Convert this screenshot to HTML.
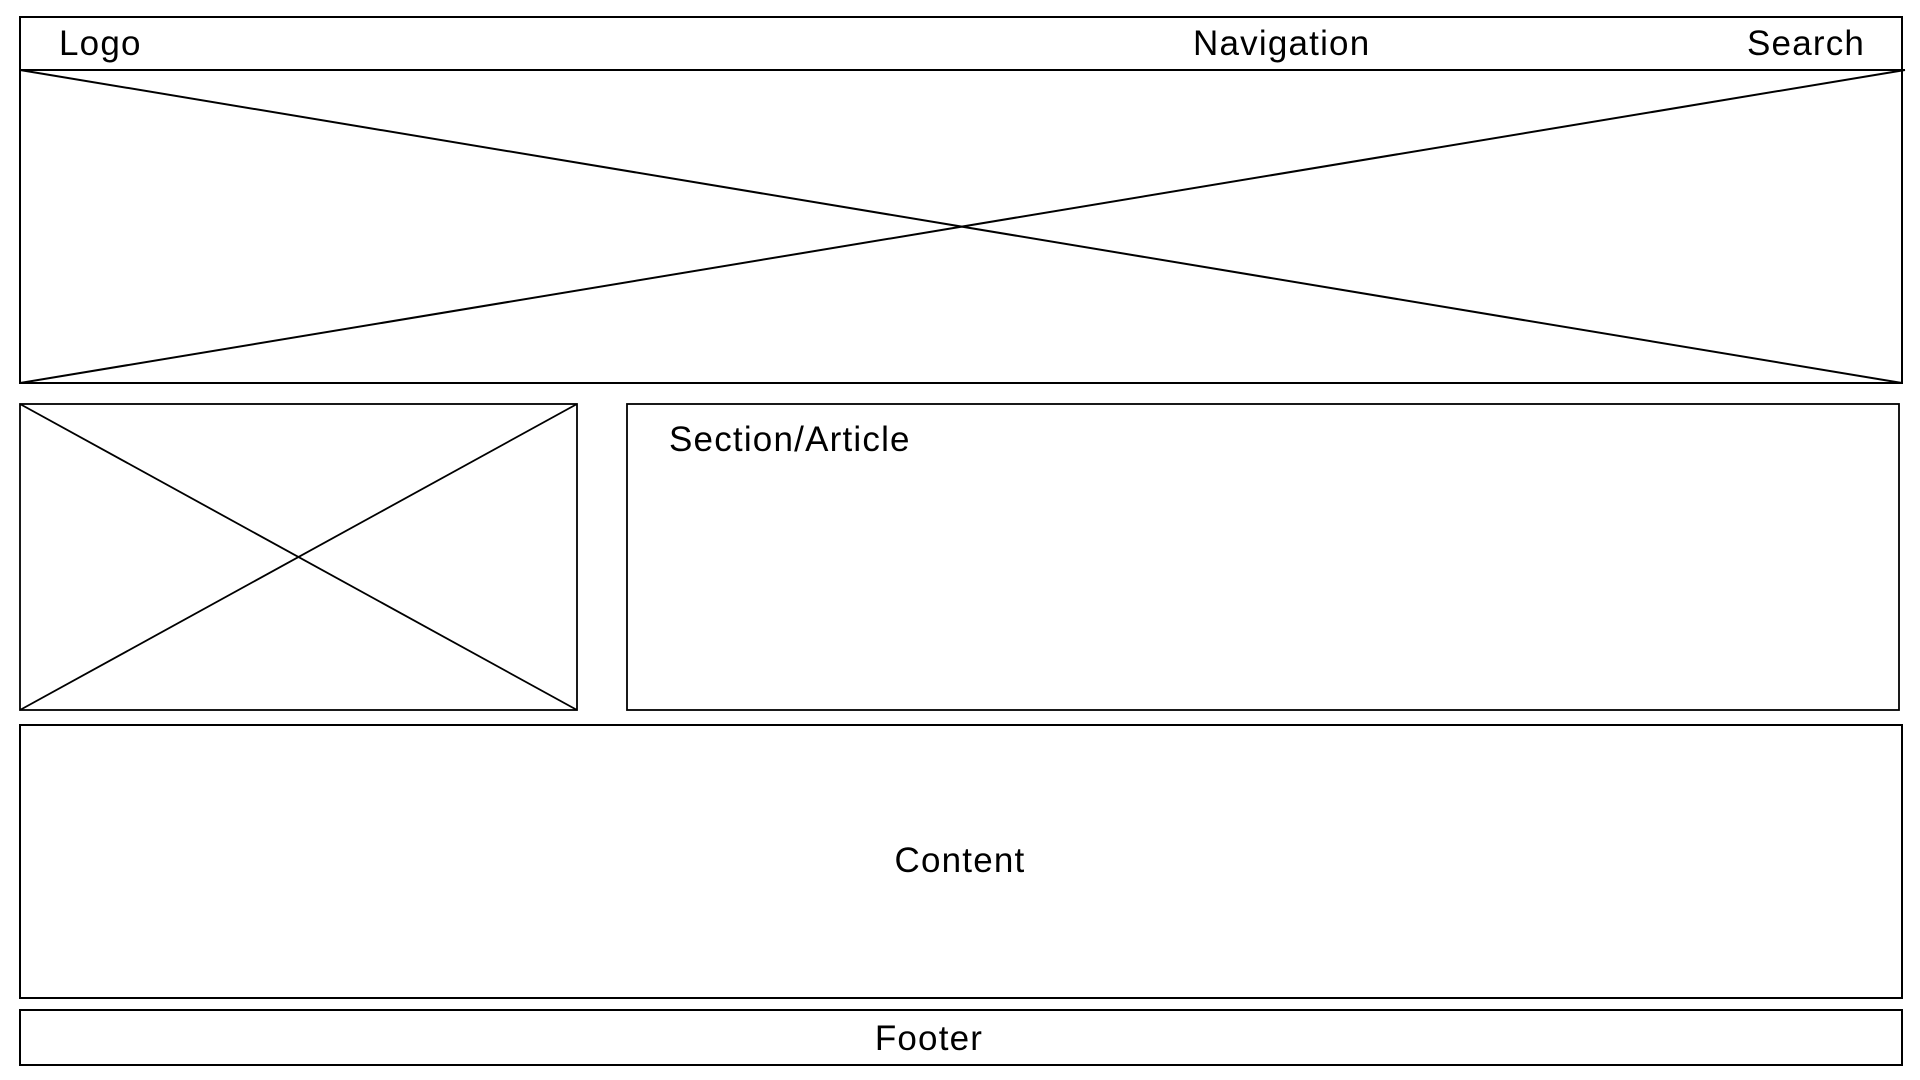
<!DOCTYPE html>
<html><head><meta charset="utf-8"><style>
html,body{margin:0;padding:0;background:#fff;width:1920px;height:1080px;overflow:hidden}
svg{display:block}
text{font-family:"Liberation Sans",sans-serif;font-size:35px;letter-spacing:1.2px;fill:#000}
</style></head><body>
<svg width="1920" height="1080" viewBox="0 0 1920 1080">
<g fill="none" stroke="#000" stroke-width="2">
<rect x="20" y="17" width="1882" height="366"/>
<line x1="20" y1="70" x2="1905" y2="70"/>
<line x1="20" y1="70" x2="1902" y2="383"/>
<line x1="20" y1="383" x2="1905" y2="70"/>
<rect x="20" y="404" width="557" height="306" stroke-width="1.8"/>
<line x1="20" y1="404" x2="577" y2="710" stroke-width="1.8"/>
<line x1="20" y1="710" x2="577" y2="404" stroke-width="1.8"/>
<rect x="627" y="404" width="1272" height="306" stroke-width="1.8"/>
<rect x="20" y="725" width="1882" height="273"/>
<rect x="20" y="1010" width="1882" height="55"/>
</g>
<text x="59" y="55">Logo</text>
<text x="1193" y="55">Navigation</text>
<text x="1747" y="55">Search</text>
<text x="669" y="451">Section/Article</text>
<text x="960" y="872" text-anchor="middle">Content</text>
<text x="929" y="1050" text-anchor="middle">Footer</text>
</svg>
</body></html>
